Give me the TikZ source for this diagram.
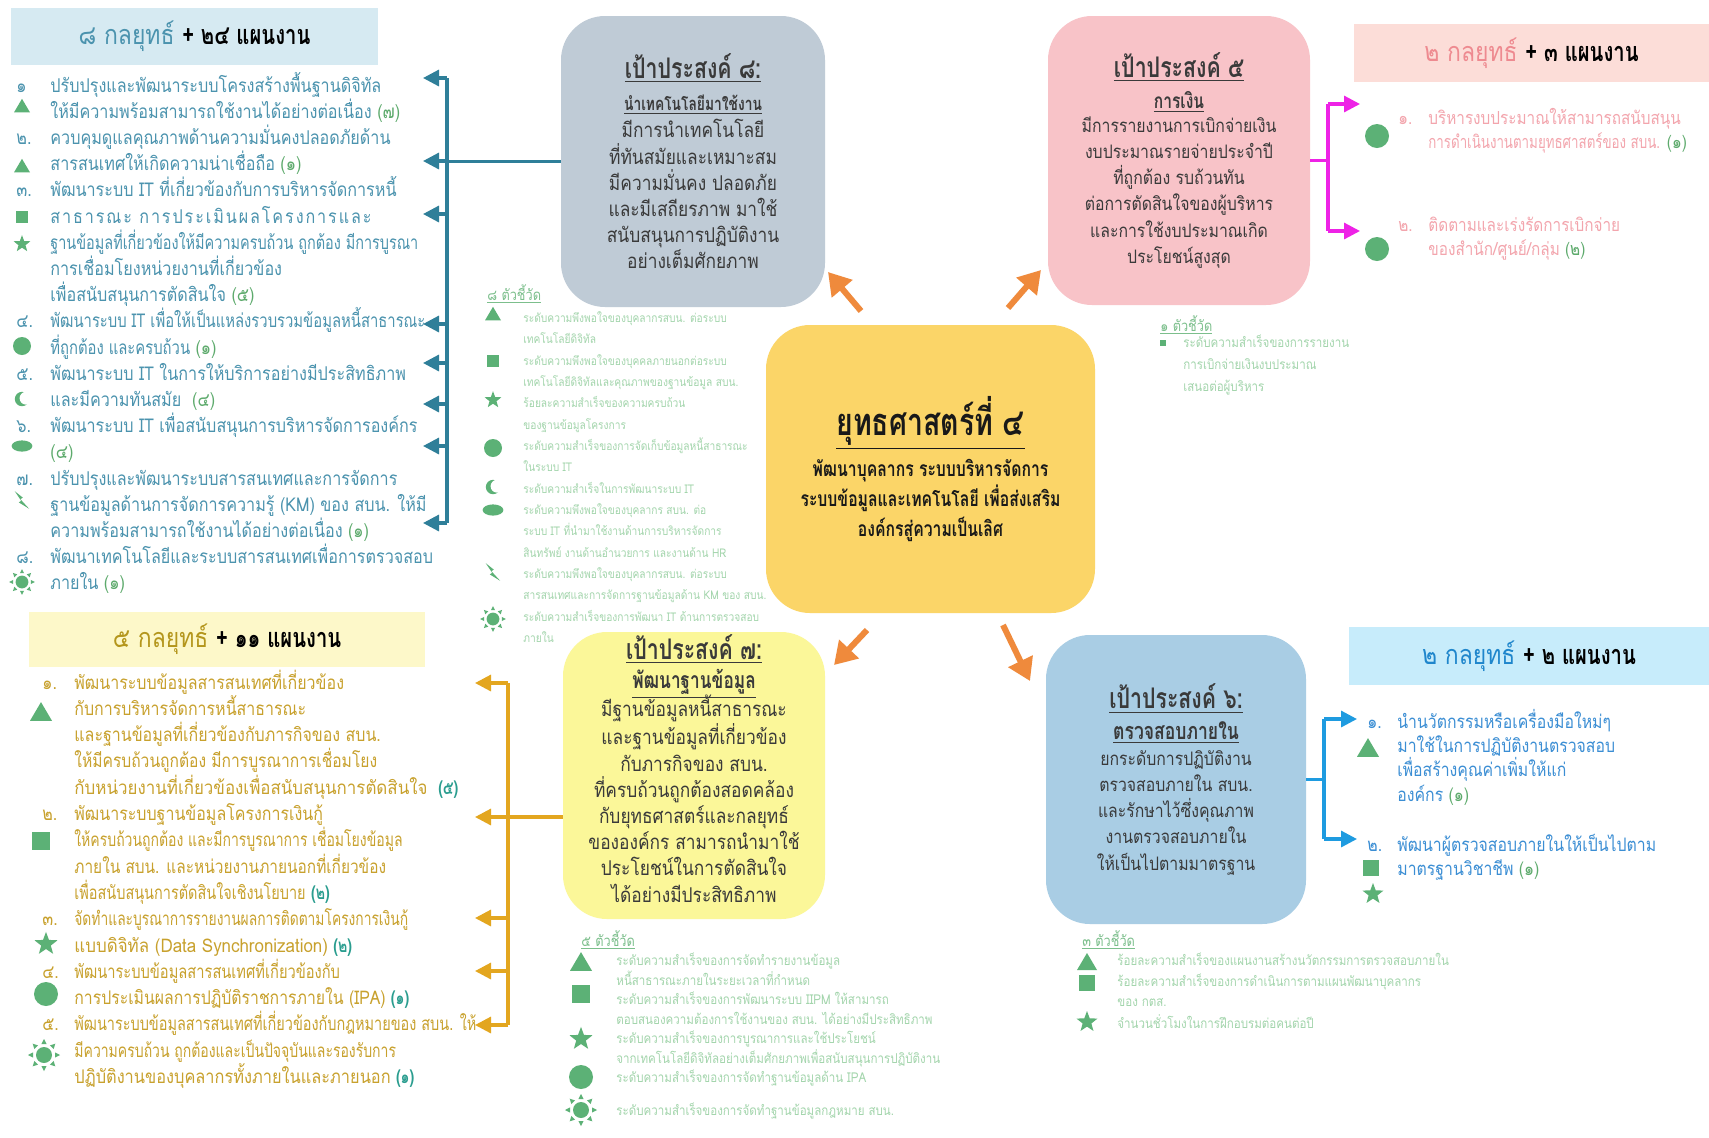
\documentclass[tikz,border=0pt]{standalone}
\usepackage{fontspec}
\setmainfont{Loma}[Script=Thai, FakeStretch=0.85, BoldFeatures={FakeStretch=0.75}]
\usetikzlibrary{positioning,arrows.meta}

\definecolor{grayblue}{HTML}{BFCBD6}
\definecolor{pinkbox}{HTML}{F8C3C8}
\definecolor{goldbox}{HTML}{FBD568}
\definecolor{lemonbox}{HTML}{FBF799}
\definecolor{skybox}{HTML}{A9CDE4}
\definecolor{tealhead}{HTML}{D6EAF2}
\definecolor{pinkhead}{HTML}{FCDDD8}
\definecolor{lemonhead}{HTML}{FDF8C9}
\definecolor{skyhead}{HTML}{C7ECFB}
\definecolor{tealtext}{HTML}{4B93AE}
\definecolor{pinktext}{HTML}{F3A5AD}
\definecolor{pinkstrong}{HTML}{EE8A90}
\definecolor{goldtext}{HTML}{C8A12D}
\definecolor{goldstrong}{HTML}{B4961C}
\definecolor{bluetext}{HTML}{3B8ED4}
\definecolor{bluestrong}{HTML}{1F86CC}
\definecolor{tealline}{HTML}{2F7F99}
\definecolor{magline}{HTML}{EE22E6}
\definecolor{goldline}{HTML}{E3A61F}
\definecolor{blueline}{HTML}{1E9BE0}
\definecolor{arroworange}{HTML}{EF8A3C}
\definecolor{icongreen}{HTML}{5CB176}
\definecolor{kpigreen}{HTML}{A3D5AC}
\definecolor{kpihead}{HTML}{7CBF8C}
\definecolor{cntgreen}{HTML}{5DAA6C}
\definecolor{cntteal}{HTML}{2A9D8F}
\definecolor{boxtext}{HTML}{3A3A3A}

\newcommand{\cnt}[1]{\textcolor{cntgreen}{#1}}
\newcommand{\cntt}[1]{\textcolor{cntteal}{\bfseries #1}}
\newcommand{\itemno}[2][15pt]{\llap{\makebox[#1][l]{#2}}}
% narrower setting for one line
\newcommand{\squeeze}[2]{{\addfontfeature{FakeStretch=#1}#2}}

\tikzset{%
    goalbox/.style={
      rounded corners=22pt,
      inner sep=0pt,
      align=center,
      text=boxtext,
      font=\fontsize{10.2}{13.1}\selectfont
    },
    headbox/.style={
      inner sep=0pt,
      font=\fontsize{13.5}{15}\selectfont
    },
    listitem/.style={
      anchor=base west,
      align=left,
      inner sep=0pt,
      font=\fontsize{9.5}{13.1}\selectfont
    },
    kpi/.style={
      anchor=base west,
      align=left,
      inner sep=0pt,
      text=kpigreen,
      font=\fontsize{6.8}{10.67}\selectfont
    },
    kpititle/.style={
      anchor=base west,
      inner sep=0pt,
      text=kpihead,
      font=\fontsize{7.5}{9}\selectfont
    },
    link/.style={line width=1.6pt},
    bigarrow/.style={-{Triangle[length=11pt,width=13pt]}, line width=3pt, arroworange},
    pics/tri/.style={code={\fill[icongreen] (-10,8) -- (10,8) -- (0,-9) -- cycle;}},
    pics/sq/.style={code={\fill[icongreen] (-8,-8) rectangle (8,8);}},
    pics/starr/.style={code={\fill[icongreen] (-90:11)
        \foreach \a in {1,...,9}{ -- (-90+36*\a:{ifthenelse(isodd(\a),4.6,11)}) } -- cycle;}},
    pics/circ/.style={code={\fill[icongreen] (0,0) circle[radius=10];}},
    pics/moon/.style={code={\fill[icongreen] (0,0) circle[radius=9];
        \fill[white] (5,-1) circle[radius=8];}},
    pics/blob/.style={code={\fill[icongreen] (0,0) ellipse[x radius=13, y radius=7];}},
    pics/bolt/.style={code={\fill[icongreen] (-9,-11) -- (1,-3) -- (-2,-1) -- (9,11) -- (-4,3) -- (-1,1) -- cycle;}},
    pics/sun/.style={code={\fill[icongreen] (0,0) circle[radius=8];
        \foreach \a in {0,45,...,315}
          \fill[icongreen,rotate=\a] (11,-2.6) -- (16,0) -- (11,2.6) -- cycle;}}
  }

\begin{document}
\begin{tikzpicture}[x=0.5pt, y=-0.5pt, >={Triangle[length=8pt,width=8pt]}]
      \fill[white] (0,0) rectangle (1709,1137);
      \useasboundingbox (0,0) rectangle (1709,1137);

      % goal boxes
      \node [goalbox, fill=goldbox, minimum width=164.5pt, minimum height=144pt,
             font=\fontsize{10.5}{15}\selectfont\bfseries, text=black!90] (c) at (930.5,469)
        {{\fontsize{19}{20}\selectfont\underline{ยุทธศาสตร์ที่ ๔}}\\[3.5pt]
         พัฒนาบุคลากร ระบบบริหารจัดการ\\ระบบข้อมูลและเทคโนโลยี เพื่อส่งเสริม\\องค์กรสู่ความเป็นเลิศ};

      \node [goalbox, fill=grayblue, minimum width=132pt, minimum height=145.5pt] (g8) at (693,161.5)
        {{\fontsize{14.2}{15}\selectfont\bfseries\underline{เป้าประสงค์ ๘:}}\\[2.9pt]
         {\fontsize{9.2}{11}\selectfont\bfseries\underline{นำเทคโนโลยีมาใช้งาน}}\\[0.4pt]
         มีการนำเทคโนโลยี\\ที่ทันสมัยและเหมาะสม\\มีความมั่นคง ปลอดภัย\\และมีเสถียรภาพ มาใช้\\สนับสนุนการปฏิบัติงาน\\อย่างเต็มศักยภาพ};

      \node [goalbox, fill=pinkbox, minimum width=131pt, minimum height=144.5pt,
             font=\fontsize{9.3}{13.1}\selectfont] (g5) at (1179,160.5)
        {{\fontsize{14.2}{15}\selectfont\bfseries\underline{เป้าประสงค์ ๕}}\\[2pt]
         {\fontsize{10.4}{11}\selectfont\bfseries\underline{การเงิน}}\\[-1pt]
         มีการรายงานการเบิกจ่ายเงิน\\งบประมาณรายจ่ายประจำปี\\ที่ถูกต้อง รบถ้วนทัน\\ต่อการตัดสินใจของผู้บริหาร\\และการใช้งบประมาณเกิด\\ประโยชน์สูงสุด};

      \node [goalbox, fill=lemonbox, minimum width=131pt, minimum height=143.5pt] (g7) at (694,775.5)
        {{\fontsize{14.2}{15}\selectfont\bfseries\underline{เป้าประสงค์ ๗:}}\\[1.5pt]
         {\fontsize{11.5}{11}\selectfont\bfseries\underline{พัฒนาฐานข้อมูล}}\\[-3pt]
         มีฐานข้อมูลหนี้สาธารณะ\\และฐานข้อมูลที่เกี่ยวข้อง\\กับภารกิจของ สบน.\\ที่ครบถ้วนถูกต้องสอดคล้อง\\กับยุทธศาสตร์และกลยุทธ์\\ขององค์กร สามารถนำมาใช้\\ประโยชน์ในการตัดสินใจ\\ได้อย่างมีประสิทธิภาพ\\[-6pt]\mbox{}};

      \node [goalbox, fill=skybox, minimum width=130pt, minimum height=144.5pt,
             font=\fontsize{9.3}{13.1}\selectfont] (g6) at (1176,779.5)
        {{\fontsize{14.2}{15}\selectfont\bfseries\underline{เป้าประสงค์ ๖:}}\\[2pt]
         {\fontsize{11.7}{11}\selectfont\bfseries\underline{ตรวจสอบภายใน}}\\
         ยกระดับการปฏิบัติงาน\\ตรวจสอบภายใน สบน.\\และรักษาไว้ซึ่งคุณภาพ\\งานตรวจสอบภายใน\\ให้เป็นไปตามมาตรฐาน};

      % headers
      \node [headbox, fill=tealhead, minimum width=183.5pt, minimum height=28.5pt] (h8) at (194.5,36.5)
        {\textcolor{tealtext}{๘ กลยุทธ์} \textbf{+ ๒๔ แผนงาน}};
      \node [headbox, fill=pinkhead, minimum width=177.5pt, minimum height=29pt] (h5) at (1531.5,53)
        {\textcolor{pinkstrong}{๒ กลยุทธ์} \textbf{+ ๓ แผนงาน}};
      \node [headbox, fill=lemonhead, minimum width=198pt, minimum height=27.5pt] (h7) at (227,639.5)
        {\textcolor{goldstrong}{๕ กลยุทธ์} \textbf{+ ๑๑ แผนงาน}};
      \node [headbox, fill=skyhead, minimum width=180pt, minimum height=29pt] (h6) at (1529,656)
        {\textcolor{bluestrong}{๒ กลยุทธ์} \textbf{+ ๒ แผนงาน}};

      % orange arrows out of the centre
      \coordinate (o1a) at (861,311);  \coordinate (o1b) at (828,272);
      \coordinate (o2a) at (1008,308); \coordinate (o2b) at (1041,270);
      \coordinate (o3a) at (867,630);  \coordinate (o3b) at (834,665);
      \coordinate (o4a) at (1003,625); \coordinate (o4b) at (1030,681);
      \foreach \k in {1,...,4}
        \draw [bigarrow] (o\k a) -- (o\k b);

      % goal 8 plans (nodes sit on the baseline of their last line)
      \node [listitem, text=tealtext] (s1) at (50,118.2)
        {\itemno[17pt]{๑}ปรับปรุงและพัฒนาระบบโครงสร้างพื้นฐานดิจิทัล\\ให้มีความพร้อมสามารถใช้งานได้อย่างต่อเนื่อง \cnt{(๗)}};
      \node [listitem, text=tealtext] (s2) at (50,170.6)
        {\itemno[17pt]{๒.}ควบคุมดูแลคุณภาพด้านความมั่นคงปลอดภัยด้าน\\สารสนเทศให้เกิดความน่าเชื่อถือ \cnt{(๑)}};
      \node [listitem, text=tealtext] (s3) at (50,301.6)
        {\itemno[17pt]{๓.}พัฒนาระบบ IT ที่เกี่ยวข้องกับการบริหารจัดการหนี้\\{\addfontfeature{LetterSpace=10}สาธารณะ การประเมินผลโครงการและ}\\\squeeze{0.76}{ฐานข้อมูลที่เกี่ยวข้องให้มีความครบถ้วน ถูกต้อง มีการบูรณา}\\การเชื่อมโยงหน่วยงานที่เกี่ยวข้อง\\เพื่อสนับสนุนการตัดสินใจ \cnt{(๕)}};
      \node [listitem, text=tealtext] (s4) at (50,354)
        {\itemno[17pt]{๔.}\squeeze{0.78}{พัฒนาระบบ IT เพื่อให้เป็นแหล่งรวบรวมข้อมูลหนี้สาธารณะ}\\\squeeze{0.78}{ที่ถูกต้อง และครบถ้วน} \cnt{(๑)}};
      \node [listitem, text=tealtext] (s5) at (50,406.4)
        {\itemno[17pt]{๕.}พัฒนาระบบ IT ในการให้บริการอย่างมีประสิทธิภาพ\\และมีความทันสมัย \ \cnt{(๔)}};
      \node [listitem, text=tealtext] (s6) at (50,458.8)
        {\itemno[17pt]{๖.}พัฒนาระบบ IT เพื่อสนับสนุนการบริหารจัดการองค์กร\\\cnt{(๔)}};
      \node [listitem, text=tealtext] (s7) at (50,537.4)
        {\itemno[17pt]{๗.}ปรับปรุงและพัฒนาระบบสารสนเทศและการจัดการ\\ฐานข้อมูลด้านการจัดการความรู้ (KM) ของ สบน. ให้มี\\ความพร้อมสามารถใช้งานได้อย่างต่อเนื่อง \cnt{(๑)}};
      \node [listitem, text=tealtext] (s8) at (50,589.8)
        {\itemno[17pt]{๘.}พัฒนาเทคโนโลยีและระบบสารสนเทศเพื่อการตรวจสอบ\\ภายใน \cnt{(๑)}};

      \pic [scale=0.8] at (22,106) {tri};
      \pic [scale=0.8] at (22,166) {tri};
      \pic [scale=0.8] at (22,217) {sq};
      \pic [scale=0.8] at (22,244) {starr};
      \pic [scale=0.9] at (22,346) {circ};
      \pic [scale=0.8] at (22,399) {moon};
      \pic [scale=0.8] at (22,446) {blob};
      \pic [scale=0.8] at (22,500) {bolt};
      \pic [scale=0.8] at (22,582) {sun};

      \coordinate (t8top) at (447,78);
      \coordinate (t8bot) at (447,523);
      \draw [link, tealline] (t8top) -- (t8bot);
      \draw [link, tealline] (g8.west) -- (g8.west -| t8top);
      \foreach \k/\y in {1/78,2/161,3/214,4/324,5/363,6/404,7/446,8/523}
        \coordinate (ta\k) at (423,\y);
      \foreach \k in {1,...,8}
        \draw [link, tealline, ->] (ta\k -| t8top) -- (ta\k);

      % goal 8 indicators
      \node [kpititle] (kt8) at (487,300) {\underline{๘ ตัวชี้วัด}};
      \tikzset{kpi/.append style={font=\fontsize{6}{10.67}\selectfont}}
      \node [kpi] (k1) at (523,343.8) {ระดับความพึงพอใจของบุคลากรสบน. ต่อระบบ\\เทคโนโลยีดิจิทัล};
      \node [kpi] (k2) at (523,386.5) {ระดับความพึงพอใจของบุคคลภายนอกต่อระบบ\\เทคโนโลยีดิจิทัลและคุณภาพของฐานข้อมูล สบน.};
      \node [kpi] (k3) at (523,429.1) {ร้อยละความสำเร็จของความครบถ้วน\\ของฐานข้อมูลโครงการ};
      \node [kpi] (k4) at (523,471.8) {ระดับความสำเร็จของการจัดเก็บข้อมูลหนี้สาธารณะ\\ในระบบ IT};
      \node [kpi] (k5) at (523,493.2) {ระดับความสำเร็จในการพัฒนาระบบ IT};
      \node [kpi] (k6) at (523,557.2) {ระดับความพึงพอใจของบุคลากร สบน. ต่อ\\ระบบ IT ที่นำมาใช้งานด้านการบริหารจัดการ\\สินทรัพย์ งานด้านอำนวยการ และงานด้าน HR};
      \node [kpi] (k7) at (523,599.8) {ระดับความพึงพอใจของบุคลากรสบน. ต่อระบบ\\สารสนเทศและการจัดการฐานข้อมูลด้าน KM ของ สบน.};
      \node [kpi] (k8) at (523,642.5) {ระดับความสำเร็จของการพัฒนา IT ด้านการตรวจสอบ\\ภายใน};
      \tikzset{kpi/.append style={font=\fontsize{6.8}{10.67}\selectfont}}

      \pic [scale=0.8] at (493,314) {tri};
      \pic [scale=0.75] at (493,361) {sq};
      \pic [scale=0.8] at (493,400) {starr};
      \pic [scale=0.9] at (493,448) {circ};
      \pic [scale=0.8] at (493,487) {moon};
      \pic [scale=0.8] at (493,510) {blob};
      \pic [scale=0.8] at (493,572) {bolt};
      \pic [scale=0.8] at (493,619) {sun};

      % goal 5 plans
      \node [listitem, text=pinktext, font=\fontsize{9}{12.2}\selectfont] (p1) at (1428,148.4)
        {\itemno{๑.}บริหารงบประมาณให้สามารถสนับสนุน\\\squeeze{0.74}{การดำเนินงานตามยุทธศาสตร์ของ สบน.} \cnt{(๑)}};
      \node [listitem, text=pinktext, font=\fontsize{9}{12.2}\selectfont] (p2) at (1428,255.4)
        {\itemno{๒.}ติดตามและเร่งรัดการเบิกจ่าย\\ของสำนัก/ศูนย์/กลุ่ม \cnt{(๒)}};
      \pic [scale=1.2] at (1377,136) {circ};
      \pic [scale=1.2] at (1377,249) {circ};

      \coordinate (m5top) at (1328,104);
      \coordinate (m5bot) at (1328,231);
      \draw [link, magline] (m5top) -- (m5bot);
      \draw [link, magline] (g5.east) -- (g5.east -| m5top);
      \coordinate (ma1) at (1360,104);
      \coordinate (ma2) at (1360,231);
      \draw [link, magline, ->] (m5top) -- (ma1);
      \draw [link, magline, ->] (m5bot) -- (ma2);

      % goal 5 indicator
      \node [kpititle] (kt5) at (1160,331) {\underline{๑ ตัวชี้วัด}};
      \pic [scale=0.35] at (1163,343) {sq};
      \node [kpi, font=\fontsize{6.8}{11}\selectfont] (r1) at (1183,391)
        {ระดับความสำเร็จของการรายงาน\\การเบิกจ่ายเงินงบประมาณ\\เสนอต่อผู้บริหาร};

      % goal 7 plans
      \tikzset{listitem/.append style={font=\fontsize{9.4}{13.15}\selectfont}}
      \node [listitem, text=goldtext] (b1) at (74,794.2)
        {\itemno[16pt]{๑.}พัฒนาระบบข้อมูลสารสนเทศที่เกี่ยวข้อง\\กับการบริหารจัดการหนี้สาธารณะ\\และฐานข้อมูลที่เกี่ยวข้องกับภารกิจของ สบน.\\\squeeze{0.83}{ให้มีครบถ้วนถูกต้อง มีการบูรณาการเชื่อมโยง}\\\squeeze{0.9}{กับหน่วยงานที่เกี่ยวข้องเพื่อสนับสนุนการตัดสินใจ} \ \cntt{(๕)}};
      \node [listitem, text=goldtext] (b2) at (74,899.4)
        {\itemno[16pt]{๒.}พัฒนาระบบฐานข้อมูลโครงการเงินกู้\\\squeeze{0.745}{ให้ครบถ้วนถูกต้อง และมีการบูรณาการ เชื่อมโยงข้อมูล}\\\squeeze{0.82}{ภายใน สบน. และหน่วยงานภายนอกที่เกี่ยวข้อง}\\\squeeze{0.77}{เพื่อสนับสนุนการตัดสินใจเชิงนโยบาย} \cntt{(๒)}};
      \node [listitem, text=goldtext] (b3) at (74,952)
        {\itemno[16pt]{๓.}\squeeze{0.735}{จัดทำและบูรณาการรายงานผลการติดตามโครงการเงินกู้}\\\squeeze{0.9}{แบบดิจิทัล (Data Synchronization)} \cntt{(๒)}};
      \node [listitem, text=goldtext] (b4) at (74,1004.6)
        {\itemno[16pt]{๔.}\squeeze{0.78}{พัฒนาระบบข้อมูลสารสนเทศที่เกี่ยวข้องกับ}\\\squeeze{0.84}{การประเมินผลการปฏิบัติราชการภายใน (IPA)} \cntt{(๑)}};
      \node [listitem, text=goldtext] (b5) at (74,1083.5)
        {\itemno[16pt]{๕.}\squeeze{0.77}{พัฒนาระบบข้อมูลสารสนเทศที่เกี่ยวข้องกับกฎหมายของ สบน. ให้}\\\squeeze{0.745}{มีความครบถ้วน ถูกต้องและเป็นปัจจุบันและรองรับการ}\\\squeeze{0.87}{ปฏิบัติงานของบุคลากรทั้งภายในและภายนอก} \cntt{(๑)}};
      \tikzset{listitem/.append style={font=\fontsize{9.5}{13.1}\selectfont}}

      \pic [scale=1.1] at (41,712) {tri};
      \pic [scale=1.1] at (41,841) {sq};
      \pic [scale=1.1] at (46,944) {starr};
      \pic [scale=1.2] at (46,994) {circ};
      \pic [scale=1.0] at (44,1055) {sun};

      \coordinate (j7top) at (508,683);
      \coordinate (j7bot) at (508,1025);
      \coordinate (j7) at (508,817);
      \draw [link, goldline] (j7top) -- (j7bot);
      \draw [link, goldline] (g7.west |- j7) -- (j7);
      \foreach \k/\y in {1/683,2/817,3/918,4/971,5/1025}
        \coordinate (ja\k) at (475,\y);
      \foreach \k in {1,...,5}
        \draw [link, goldline, ->] (ja\k -| j7top) -- (ja\k);

      % goal 7 indicators
      \node [kpititle] (kt7) at (581,946) {\underline{๕ ตัวชี้วัด}};
      \node [kpi, font=\fontsize{6.8}{9.75}\selectfont] (y1) at (616,985)
        {ระดับความสำเร็จของการจัดทำรายงานข้อมูล\\หนี้สาธารณะภายในระยะเวลาที่กำหนด};
      \node [kpi, font=\fontsize{6.8}{9.75}\selectfont] (y2) at (616,1024)
        {ระดับความสำเร็จของการพัฒนาระบบ IIPM ให้สามารถ\\ตอบสนองความต้องการใช้งานของ สบน. ได้อย่างมีประสิทธิภาพ};
      \node [kpi, font=\fontsize{6.8}{9.75}\selectfont] (y3) at (616,1063)
        {ระดับความสำเร็จของการบูรณาการและใช้ประโยชน์\\จากเทคโนโลยีดิจิทัลอย่างเต็มศักยภาพเพื่อสนับสนุนการปฏิบัติงาน};
      \node [kpi] (y4) at (616,1082.5) {ระดับความสำเร็จของการจัดทำฐานข้อมูลด้าน IPA};
      \node [kpi] (y5) at (616,1115.5) {ระดับความสำเร็จของการจัดทำฐานข้อมูลกฎหมาย สบน.};

      \pic [scale=1.1] at (581,962) {tri};
      \pic [scale=1.1] at (581,994) {sq};
      \pic [scale=1.1] at (581,1039) {starr};
      \pic [scale=1.2] at (581,1077) {circ};
      \pic [scale=1.0] at (581,1110) {sun};

      % goal 6 plans
      \node [listitem, text=bluetext, font=\fontsize{9.3}{12.2}\selectfont] (q1) at (1397,801.2)
        {\itemno{๑.}นำนวัตกรรมหรือเครื่องมือใหม่ๆ\\มาใช้ในการปฏิบัติงานตรวจสอบ\\เพื่อสร้างคุณค่าเพิ่มให้แก่\\องค์กร \cnt{(๑)}};
      \node [listitem, text=bluetext, font=\fontsize{9.3}{12.2}\selectfont] (q2) at (1397,875.4)
        {\itemno{๒.}พัฒนาผู้ตรวจสอบภายในให้เป็นไปตาม\\มาตรฐานวิชาชีพ \cnt{(๑)}};
      \pic [scale=1.1] at (1368,748) {tri};
      \pic [scale=1.0] at (1371,868) {sq};
      \pic [scale=1.0] at (1373,894) {starr};

      \coordinate (v6top) at (1324,719);
      \coordinate (v6bot) at (1324,839);
      \draw [link, blueline] (v6top) -- (v6bot);
      \draw [link, blueline] (g6.east) -- (g6.east -| v6top);
      \coordinate (va1) at (1357,719);
      \coordinate (va2) at (1357,839);
      \draw [link, blueline, ->] (v6top) -- (va1);
      \draw [link, blueline, ->] (v6bot) -- (va2);

      % goal 6 indicators
      \node [kpititle] (kt6) at (1082,946) {\underline{๓ ตัวชี้วัด}};
      \node [kpi] (z1) at (1117,965.5) {ร้อยละความสำเร็จของแผนงานสร้างนวัตกรรมการตรวจสอบภายใน};
      \node [kpi, font=\fontsize{6.8}{10}\selectfont] (z2) at (1117,1006.5)
        {ร้อยละความสำเร็จของการดำเนินการตามแผนพัฒนาบุคลากร\\ของ กตส.};
      \node [kpi] (z3) at (1117,1028.5) {จำนวนชั่วโมงในการฝึกอบรมต่อคนต่อปี};
      \pic [scale=1.0] at (1087,962) {tri};
      \pic [scale=1.0] at (1087,983) {sq};
      \pic [scale=1.0] at (1087,1022) {starr};
\end{tikzpicture}
\end{document}
